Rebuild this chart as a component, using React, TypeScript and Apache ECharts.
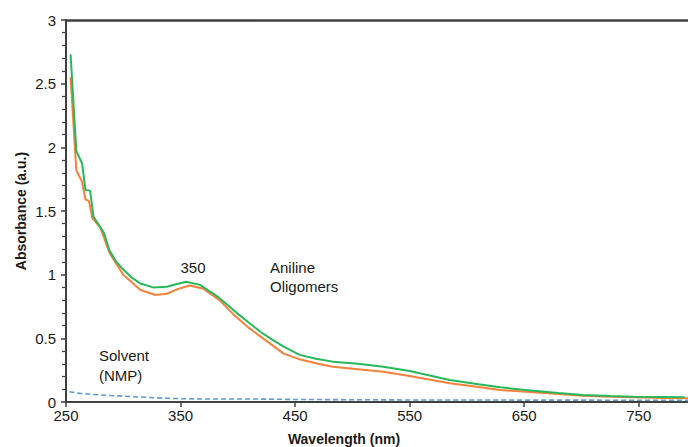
import React, { useEffect, useRef } from "react";
import * as echarts from "echarts";

const greenWl = [254, 259, 264, 267, 271, 274, 278, 283, 288, 294, 300, 307, 315, 326, 338, 346, 355, 367, 376, 382, 390, 399, 410, 420, 430, 440, 454, 468, 483, 505, 527, 550, 585, 610, 629, 658, 680, 701, 725, 745, 770, 790];
const greenAbs = [2.73, 1.97, 1.875, 1.665, 1.66, 1.455, 1.40, 1.33, 1.19, 1.10, 1.04, 0.98, 0.93, 0.90, 0.905, 0.925, 0.945, 0.92, 0.865, 0.83, 0.77, 0.70, 0.62, 0.55, 0.49, 0.435, 0.37, 0.34, 0.317, 0.30, 0.277, 0.243, 0.173, 0.14, 0.115, 0.089, 0.07, 0.055, 0.047, 0.042, 0.039, 0.037];

const orangeWl = [254, 259, 264, 267, 270, 273, 280, 288, 300, 315, 328, 338, 347, 358, 370, 384, 396, 410, 425, 440, 454, 470, 483, 505, 527, 550, 585, 610, 629, 658, 680, 701, 725, 745, 770, 793];
const orangeAbs = [2.55, 1.82, 1.73, 1.59, 1.58, 1.445, 1.37, 1.17, 1.00, 0.88, 0.84, 0.85, 0.885, 0.915, 0.89, 0.80, 0.69, 0.58, 0.48, 0.38, 0.335, 0.30, 0.277, 0.258, 0.238, 0.204, 0.147, 0.118, 0.094, 0.076, 0.062, 0.05, 0.042, 0.037, 0.032, 0.029];

const solventWl = [253, 262, 280, 308, 338, 367, 410, 450, 550, 650, 750, 793];
const solventAbs = [0.081, 0.068, 0.055, 0.042, 0.029, 0.024, 0.024, 0.02, 0.016, 0.015, 0.014, 0.013];

const xTickLabels = [250, 350, 450, 550, 650, 750];

const zip = (a: number[], b: number[]) => a.map((v, i) => [v, b[i]]);

const FONT = "'Liberation Sans', Arial, sans-serif";
const AXIS_COLOR = "#404040";

export default function App() {
  const ref = useRef<HTMLDivElement>(null);
  useEffect(() => {
    if (!ref.current) return;
    const chart = echarts.init(ref.current, undefined, { renderer: "svg" });
    chart.setOption({
      animation: false,
      textStyle: { fontFamily: FONT },
      grid: {
        left: 66,
        top: 20,
        bottom: 45,
        right: 0,
        show: false,
        containLabel: false,
      },
      xAxis: [
        {
          type: "value",
          min: 250,
          max: 793,
          axisLine: { show: true, lineStyle: { color: AXIS_COLOR, width: 2 } },
          axisTick: {
            show: true,
            inside: false,
            length: 5,
            customValues: xTickLabels,
            lineStyle: { color: AXIS_COLOR, width: 1.5 },
          },
          axisLabel: {
            customValues: xTickLabels,
            color: "#1a1a1a",
            fontSize: 15,
            fontFamily: FONT,
            margin: 6,
          },
          splitLine: { show: false },
        },
        {
          type: "value",
          position: "top",
          min: 250,
          max: 793,
          axisLine: { show: true, onZero: false, lineStyle: { color: AXIS_COLOR, width: 2.5 } },
          axisTick: { show: false },
          axisLabel: { show: false },
          splitLine: { show: false },
        },
      ],
      yAxis: {
        type: "value",
        min: 0,
        max: 3,
        interval: 0.5,
        axisLine: { show: true, lineStyle: { color: AXIS_COLOR, width: 2 } },
        axisTick: { show: true, length: 5, lineStyle: { color: AXIS_COLOR, width: 1.5 } },
        minorTick: { show: true, splitNumber: 5, length: 4, lineStyle: { color: AXIS_COLOR, width: 1.2 } },
        axisLabel: {
          color: "#1a1a1a",
          fontSize: 15,
          fontFamily: FONT,
          margin: 10,
        },
        splitLine: { show: false },
        minorSplitLine: { show: false },
      },
      series: [
        {
          type: "line",
          data: zip(solventWl, solventAbs),
          showSymbol: false,
          lineStyle: { color: "#5b9bd5", width: 1.6, type: [5, 3] },
          z: 1,
        },
        {
          type: "line",
          data: zip(orangeWl, orangeAbs),
          showSymbol: false,
          lineStyle: { color: "#f4813c", width: 2 },
          z: 2,
        },
        {
          type: "line",
          data: zip(greenWl, greenAbs),
          showSymbol: false,
          lineStyle: { color: "#27b85a", width: 2 },
          z: 3,
        },
      ],
      graphic: [
        {
          type: "text",
          x: 21,
          y: 211,
          rotation: Math.PI / 2,
          style: {
            text: "Absorbance (a.u.)",
            font: `bold 14px ${FONT}`,
            fill: "#1a1a1a",
            align: "center",
            verticalAlign: "middle",
          },
        },
        {
          type: "text",
          x: 344,
          y: 439,
          style: {
            text: "Wavelength (nm)",
            font: `bold 14px ${FONT}`,
            fill: "#1a1a1a",
            align: "center",
            verticalAlign: "middle",
          },
        },
        {
          type: "text",
          x: 193,
          y: 267,
          style: { text: "350", font: `15px ${FONT}`, fill: "#1a1a1a", align: "center", verticalAlign: "middle" },
        },
        {
          type: "text",
          x: 270,
          y: 267,
          style: { text: "Aniline", font: `15px ${FONT}`, fill: "#1a1a1a", align: "left", verticalAlign: "middle" },
        },
        {
          type: "text",
          x: 270,
          y: 286,
          style: { text: "Oligomers", font: `15px ${FONT}`, fill: "#1a1a1a", align: "left", verticalAlign: "middle" },
        },
        {
          type: "text",
          x: 99,
          y: 355,
          style: { text: "Solvent", font: `15px ${FONT}`, fill: "#1a1a1a", align: "left", verticalAlign: "middle" },
        },
        {
          type: "text",
          x: 99,
          y: 375,
          style: { text: "(NMP)", font: `15px ${FONT}`, fill: "#1a1a1a", align: "left", verticalAlign: "middle" },
        },
      ],
    });
    return () => chart.dispose();
  }, []);
  return <div ref={ref} style={{ width: 688, height: 447, position: "absolute", left: 0, top: 0 }} />;
}
